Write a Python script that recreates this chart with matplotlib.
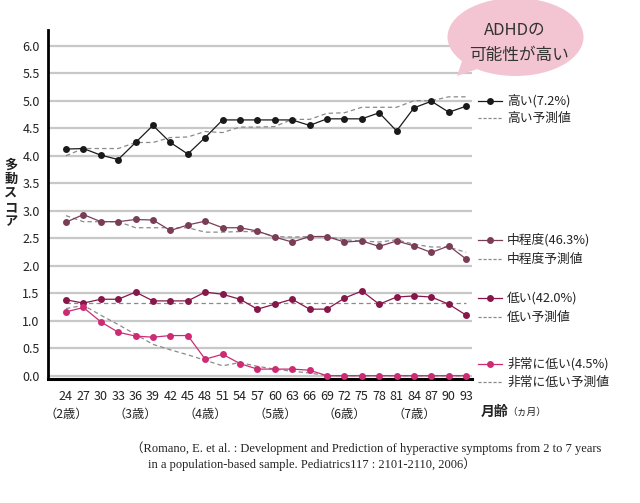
import matplotlib
matplotlib.use("Agg")
import matplotlib.pyplot as plt
from matplotlib.patches import Ellipse, Polygon
from matplotlib.ticker import FormatStrFormatter

plt.rcParams["font.family"] = ["Noto Sans CJK JP", "DejaVu Sans"]

# age in months (x axis)
months = list(range(24, 94, 3))
age_ticks = [24, 36, 48, 60, 72, 84]
age_labels = ["（2歳）", "（3歳）", "（4歳）", "（5歳）", "（6歳）", "（7歳）"]

# observed scores
high = [4.12, 4.13, 4.01, 3.93, 4.24, 4.55, 4.24, 4.03, 4.33, 4.65, 4.65, 4.65,
        4.65, 4.65, 4.55, 4.67, 4.67, 4.67, 4.78, 4.45, 4.87, 4.99, 4.79, 4.90]
mid = [2.79, 2.93, 2.80, 2.80, 2.84, 2.83, 2.64, 2.74, 2.81, 2.69, 2.69, 2.63,
       2.52, 2.43, 2.53, 2.53, 2.43, 2.45, 2.35, 2.45, 2.36, 2.24, 2.36, 2.12]
low = [1.38, 1.32, 1.39, 1.39, 1.52, 1.36, 1.36, 1.36, 1.52, 1.48, 1.39, 1.21,
       1.30, 1.39, 1.21, 1.21, 1.41, 1.54, 1.30, 1.43, 1.45, 1.43, 1.30, 1.10]
very_low = [1.16, 1.24, 0.98, 0.79, 0.72, 0.70, 0.73, 0.73, 0.30, 0.39, 0.22, 0.12,
            0.12, 0.12, 0.10, 0.0, 0.0, 0.0, 0.0, 0.0, 0.0, 0.0, 0.0, 0.0]

# predicted scores
high_pred = [4.00, 4.13, 4.13, 4.13, 4.24, 4.24, 4.33, 4.34, 4.44, 4.42, 4.52, 4.52,
             4.53, 4.66, 4.66, 4.77, 4.78, 4.88, 4.88, 4.88, 5.00, 5.00, 5.07, 5.07]
mid_pred = [2.91, 2.80, 2.80, 2.80, 2.69, 2.69, 2.69, 2.69, 2.61, 2.61, 2.62, 2.62,
            2.53, 2.52, 2.53, 2.53, 2.47, 2.45, 2.43, 2.47, 2.39, 2.34, 2.34, 2.24]
low_pred = [1.33] * 24
very_low_pred = [1.22, 1.28, 1.10, 0.93, 0.75, 0.57, 0.47, 0.38, 0.28, 0.18, 0.24, 0.17,
                 0.12, 0.08, 0.05, 0.0, 0.0, 0.0, 0.0, 0.0, 0.0, 0.0, 0.0, 0.0]

observed = [high, mid, low, very_low]
predicted = [high_pred, mid_pred, low_pred, very_low_pred]
names = ["高い(7.2%)", "中程度(46.3%)", "低い(42.0%)", "非常に低い(4.5%)"]
pred_names = ["高い予測値", "中程度予測値", "低い予測値", "非常に低い予測値"]
colors = ["#1a1a1a", "#7a3d56", "#86174a", "#cc2c74"]

fig = plt.figure(figsize=(6.4, 5.03), dpi=100)
ax = fig.add_axes([48 / 640, 124 / 503, 424 / 640, 349 / 503])

ax.set_xlim(20.9, 94.0)
ax.set_ylim(-0.06, 6.285)
ax.set_yticks([i * 0.5 for i in range(13)])
ax.yaxis.set_major_formatter(FormatStrFormatter("%.1f"))
ax.set_xticks(months)
ax.tick_params(axis="both", length=0, labelsize=9, colors="#222222")
ax.tick_params(axis="x", pad=8)
ax.tick_params(axis="y", pad=6)
ax.yaxis.grid(True, color="#c8c8c8", linewidth=1.6)
ax.set_axisbelow(True)
for side in ["top", "right"]:
    ax.spines[side].set_visible(False)
ax.spines["left"].set_linewidth(2.0)
ax.spines["bottom"].set_linewidth(2.2)

for obs, pred, c in zip(observed, predicted, colors):
    ax.plot(months, pred, color="#8a8a8a", linewidth=0.9, linestyle=(0, (3.5, 2.5)), zorder=3)
    ax.plot(months, obs, color=c, linewidth=0.9, marker="o", markersize=5,
            markeredgewidth=0, clip_on=False, zorder=4)

for m, lab in zip(age_ticks, age_labels):
    ax.text(m, -0.1, lab, transform=ax.get_xaxis_transform(), ha="center",
            va="center", fontsize=8.8, color="#222222")

# overlay in pixel coordinates for legend, bubble and notes
ov = fig.add_axes([0, 0, 1, 1])
ov.set_xlim(0, 640)
ov.set_ylim(503, 0)
ov.axis("off")

ov.text(11, 193, "\n".join("多動スコア"), ha="center", va="center", fontsize=9.5,
        fontweight="bold", linespacing=1.02, color="#222222")

legend_y = [(101, 118), (240, 259), (298, 317), (364, 382)]
for (y1, y2), c, n, pn in zip(legend_y, colors, names, pred_names):
    ov.plot([478, 502], [y1, y1], color=c, linewidth=0.9)
    ov.plot([490], [y1], marker="o", markersize=5, color=c, markeredgewidth=0)
    ov.plot([478, 502], [y2, y2], color="#8a8a8a", linewidth=0.9, linestyle=(0, (2.5, 1.5)))
    ov.text(507, y1, n, ha="left", va="center", fontsize=9.2, color="#222222")
    ov.text(507, y2, pn, ha="left", va="center", fontsize=9.2, color="#222222")

ov.text(481, 412, "月齢", ha="left", va="center", fontsize=10, fontweight="bold",
        color="#222222")
ov.text(507, 412, "（ヵ月）", ha="left", va="center", fontsize=7, color="#222222")

# speech bubble
bubble = "#f3c5d2"
ov.add_patch(Ellipse((515.5, 37), 136, 78, facecolor=bubble, edgecolor="none"))
ov.add_patch(Polygon([(457, 76), (463, 58), (480, 68)], closed=True,
                     facecolor=bubble, edgecolor="none"))
ov.text(515, 30, "ADHDの", ha="center", va="center", fontsize=12, color="#333333")
ov.text(519, 55, "可能性が高い", ha="center", va="center", fontsize=12, color="#333333")

cite_font = ["Liberation Serif", "Noto Sans CJK JP"]
ov.text(131, 448, "（Romano, E. et al. : Development and Prediction of hyperactive "
        "symptoms from 2 to 7 years", ha="left", va="center", fontsize=9,
        family=cite_font, color="#222222")
ov.text(148, 464, "in a population-based sample. Pediatrics117 : 2101-2110, 2006）",
        ha="left", va="center", fontsize=9, family=cite_font, color="#222222")

fig.savefig("out.png", dpi=100)
